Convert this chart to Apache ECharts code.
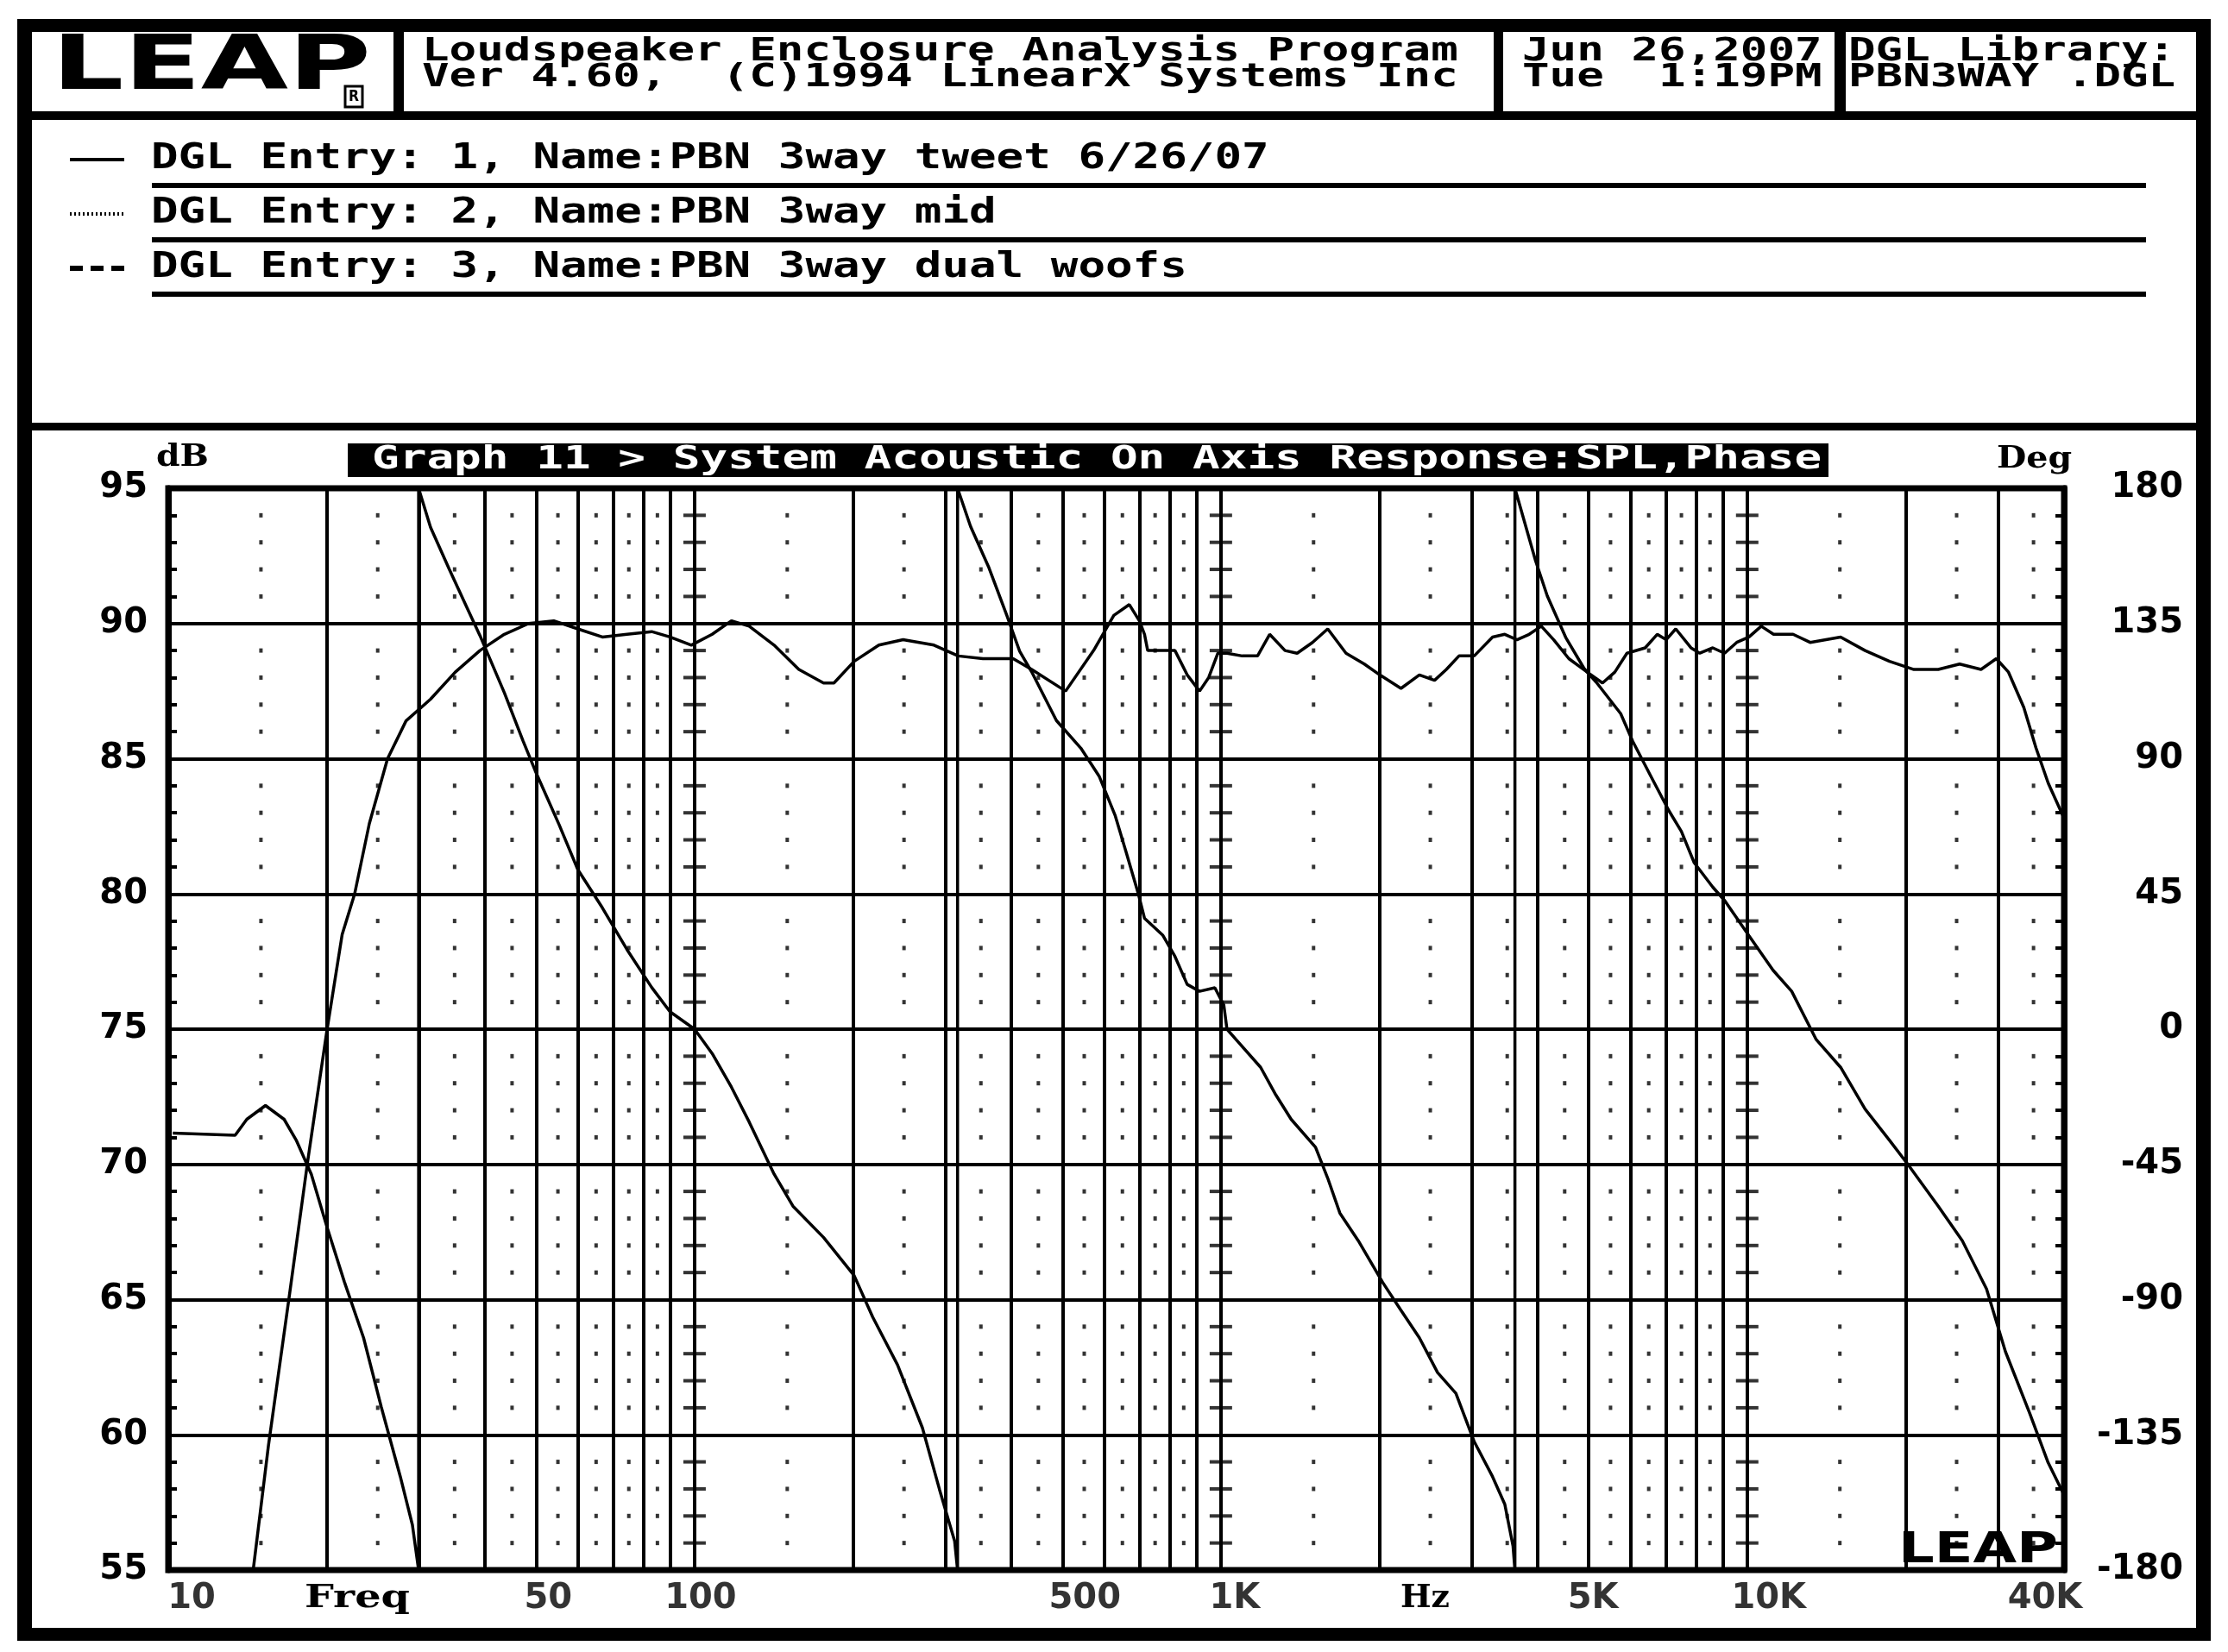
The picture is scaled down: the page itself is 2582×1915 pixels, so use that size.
<!DOCTYPE html>
<html><head><meta charset="utf-8">
<script src="https://cdn.jsdelivr.net/npm/echarts@6/dist/echarts.min.js"></script>
<style>html,body{margin:0;padding:0;background:#fff}#c{width:2582px;height:1915px}</style>
</head><body><div id="c"></div>
<script>
// ---------------- DATA ----------------
const splFreq = [14.5,15.5,17.0,18.4,20.0,21.4,22.6,24.1,26.1,28.3,31.5,35.1,39.1,43.5,48.4,54,60,66.8,74.4,82.9,89.8,98.6,108,117.5,127,141.6,157.8,175.8,184,201,224,249,285,317,353,403,437,507,573,626,670,700,716,726,755,818,863,911,948,987,1027,1098,1174,1238,1324,1396,1493,1596,1729,1873,2004,2199,2383,2547,2682,2834,3029,3283,3463,3653,3853,4063,4289,4583,4967,5310,5604,5909,6400,6746,7015,7316,7820,8127,8604,9058,9551,10080,10634,11221,12222,13170,15050,16750,18640,20740,23070,25330,27820,29740,31370,33540,35380,37320,40000];
const splDb = [55,59.6,65.2,70.1,74.9,78.5,80.0,82.6,85.0,86.4,87.2,88.2,89.0,89.6,90.0,90.1,89.8,89.5,89.6,89.7,89.5,89.2,89.6,90.1,89.9,89.2,88.3,87.8,87.8,88.6,89.2,89.4,89.2,88.8,88.7,88.7,88.3,87.5,89.0,90.3,90.7,90.1,89.6,89.0,89.0,89.0,88.1,87.5,88.0,88.9,88.9,88.8,88.8,89.6,89.0,88.9,89.3,89.8,88.9,88.5,88.1,87.6,88.1,87.9,88.3,88.8,88.8,89.5,89.6,89.4,89.6,89.9,89.4,88.7,88.2,87.8,88.2,88.9,89.1,89.6,89.4,89.8,89.1,88.9,89.1,88.9,89.3,89.5,89.9,89.6,89.6,89.3,89.5,89.0,88.6,88.3,88.3,88.5,88.3,88.7,88.2,86.9,85.4,84.1,82.8];

const phaseFreq = [10.2,13.4,14.1,15.3,16.6,17.5,18.7,20,21.6,23.5,25.4,27.6,29.1,29.9,29.9,31.5,34.2,37.0,39.1,43.5,47.2,49.8,55.3,60,66.8,74.4,82.9,89.8,100,108,117.5,127,141.6,153.8,175.8,201,218,243,271,292,312,316,316,334.5,362.6,392.7,414.6,437,487,542,587,630,661,697,716,776,818,863,911,974,1013,1027,1069,1190,1272,1360,1513,1596,1683,1824,2030,2198,2383,2581,2796,3030,3282,3463,3590,3620,3620,3963,4170,4520,4900,5170,5750,6060,6560,7100,7500,7930,8600,9070,10080,11200,12150,13530,15050,16750,18640,20200,23070,25630,28500,30950,34450,37300,40000];
const phaseDeg = [-34.6,-35.3,-30,-25.4,-30,-36.9,-48.3,-65.5,-84,-102.7,-125.8,-148.9,-165,-180,180,167,153,140,131,112,96,86,68,53.1,40.4,26.5,13.9,5.8,0,-8.1,-19.3,-30.9,-48.2,-58.9,-69.3,-82,-95.8,-111.7,-132.7,-153.2,-170.4,-180,180,167.3,153.5,137.3,125.8,118.9,102.7,93.5,84.2,71,58.8,45,36.9,31.2,24.2,14.9,12.6,13.8,8.0,0.0,-3.5,-12.7,-21.9,-30,-39.3,-49.6,-61.2,-70.4,-84.3,-93.5,-102.7,-114.3,-121.2,-137.3,-148.9,-158.1,-172,-180,180,155.8,144.2,130.4,120,115.4,105,95.8,84.2,72.7,65.8,55.4,47.3,42.7,31.1,19.6,12.6,-3.5,-12.7,-26.6,-37,-45,-58.9,-70.4,-86.5,-107.3,-128,-144.2,-155];

const solidFreqs = [20,30,40,50,60,70,80,90,100,200,300,400,500,600,700,800,900,1000,2000,3000,4000,5000,6000,7000,8000,9000,10000,20000,30000];
const dottedFreqs = [15,25,35,45,55,65,75,85,150,250,350,450,550,650,750,850,1500,2500,3500,4500,5500,6500,7500,8500,15000,25000,35000];
const crossFreqs = [100,1000,10000];
const minorDb = [56,57,58,59,61,62,63,64,66,67,68,69,71,72,73,74,76,77,78,79,81,82,83,84,86,87,88,89,91,92,93,94];
const freqTicks = [10,50,100,500,1000,5000,10000,40000];
const freqTickLabels = ['10','50','100','500','1K','5K','10K','40K'];

const headerTitle = ['Loudspeaker Enclosure Analysis Program','Ver 4.60,  (C)1994 LinearX Systems Inc'];
const headerDate = ['Jun 26,2007','Tue  1:19PM'];
const headerLib = ['DGL Library:','PBN3WAY .DGL'];
const legendTexts = ['DGL Entry: 1, Name:PBN 3way tweet 6/26/07','DGL Entry: 2, Name:PBN 3way mid','DGL Entry: 3, Name:PBN 3way dual woofs'];
const graphTitle = 'Graph 11 > System Acoustic On Axis Response:SPL,Phase';

// ---------------- STYLE / LAYOUT ----------------
const freqLabelDx = [27,14,7,26,16,5,25,-22];
const G = {left:195, top:566, right:2392, bottom:1820};
const mono = '"DejaVu Sans Mono"';
const CW = 31.6; // character cell width

const cv = document.createElement('canvas').getContext('2d');
function tw(text, font){ cv.font = font; return cv.measureText(text).width; }
function txt(text, x, y, size, width, o){
  o = o || {};
  const font = (o.weight||'bold') + ' ' + size + 'px ' + (o.family||mono);
  const w = tw(text, font);
  return {type:'text', x:x, y:y, z:o.z||10, scaleX: width ? width/w : 1,
    style:{text:text, font:font, fill:o.fill||'#000', textAlign:'left', textVerticalAlign:'middle', align:'left', verticalAlign:'middle'}};
}
function rect(x,y,w,h,fill,z){ return {type:'rect', shape:{x:x,y:y,width:w,height:h}, style:{fill:fill||'#000'}, z:z||5}; }
function seg(x1,y1,x2,y2,w,dash){ return {type:'line', shape:{x1:x1,y1:y1,x2:x2,y2:y2}, style:{stroke:'#000', lineWidth:w, lineDash:dash||null}, z:5}; }

const graphics = [];
// outer frame
graphics.push(rect(20,22,2542,15));
graphics.push(rect(20,22,17,1880));
graphics.push(rect(2545,22,17,1880));
graphics.push(rect(20,1887,2542,15));
// header
graphics.push(rect(20,129,2542,10));
graphics.push(rect(456,22,12,117));
graphics.push(rect(1731,22,11,117));
graphics.push(rect(2126,22,13,117));
// separator
graphics.push(rect(20,490,2542,9));
// LEAP logo
graphics.push(txt('LEAP', 60, 80, 88, 370, {family:'"DejaVu Sans"'}));
graphics.push({type:'rect', shape:{x:400,y:100,width:20,height:24}, style:{fill:'none', stroke:'#000', lineWidth:3}, z:6});
graphics.push(txt('R', 404, 112, 18, 12, {family:'"DejaVu Sans"'}));
// header texts
headerTitle.forEach((t,i)=>graphics.push(txt(t, 489, 60+i*30, 38, t.length*CW)));
headerDate.forEach((t,i)=>graphics.push(txt(t, 1764, 60+i*30, 38, t.length*CW)));
headerLib.forEach((t,i)=>graphics.push(txt(t, 2142, 60+i*30, 38, t.length*CW)));
// legend
const legY = [185, 248, 311];
legendTexts.forEach((t,i)=>{
  graphics.push(txt(t, 175, legY[i], 40, t.length*CW));
  graphics.push(rect(176, legY[i]+27, 2311, 6));
});
graphics.push(seg(81,legY[0],144,legY[0],4));
graphics.push(seg(81,legY[1],144,legY[1],4,[2,3]));
graphics.push(seg(81,legY[2],144,legY[2],6,[15,9]));
// graph title bar
graphics.push(rect(403,514,1716,39));
graphics.push(txt(graphTitle, 431, 533, 38, graphTitle.length*31.7, {fill:'#fff', z:11}));
// axis names
graphics.push(txt('dB', 181, 531, 36, 61, {family:'"DejaVu Serif"'}));
graphics.push(txt('Deg', 2314, 533, 36, 87, {family:'"DejaVu Serif"'}));
graphics.push(txt('Freq', 353, 1853, 38, 122, {family:'"DejaVu Serif"'}));
graphics.push(txt('Hz', 1623, 1853, 38, 57, {family:'"DejaVu Serif"'}));
// watermark logo
graphics.push(txt('LEAP', 2200, 1798, 50, 185, {family:'"DejaVu Sans"', z:100}));

const dots = [];
dottedFreqs.forEach(f=>minorDb.forEach(d=>dots.push([f,d])));
const crosses = [];
crossFreqs.forEach(f=>minorDb.forEach(d=>crosses.push([f,d])));

const axisFont = {color:'#000', fontSize:40, fontWeight:'bold', fontFamily:'"DejaVu Sans"'};

const option = {
  animation:false,
  backgroundColor:'#fff',
  grid:{left:G.left, top:G.top, width:G.right-G.left, height:G.bottom-G.top, show:true, borderColor:'#000', borderWidth:7, backgroundColor:'transparent'},
  xAxis:{type:'log', logBase:10, min:10, max:40000, axisLine:{show:false}, axisTick:{show:false}, axisLabel:{show:false}, splitLine:{show:false}, minorSplitLine:{show:false}},
  yAxis:[
    {type:'value', min:55, max:95, interval:5, position:'left',
     axisLine:{show:true, lineStyle:{color:'#000', width:7}},
     axisTick:{show:true, inside:true, length:10, lineStyle:{color:'#000', width:4}},
     minorTick:{show:true, splitNumber:5, length:10, lineStyle:{color:'#000', width:4}},
     splitLine:{show:true, lineStyle:{color:'#000', width:4}},
     axisLabel:Object.assign({margin:24}, axisFont)},
    {type:'value', min:-180, max:180, interval:45, position:'right',
     axisLine:{show:true, lineStyle:{color:'#000', width:7}},
     axisTick:{show:true, inside:true, length:10, lineStyle:{color:'#000', width:4}},
     minorTick:{show:true, splitNumber:5, length:10, lineStyle:{color:'#000', width:4}},
     splitLine:{show:false},
     axisLabel:Object.assign({margin:138, align:'right'}, axisFont)}
  ],
  graphic:{elements:graphics},
  series:[
    {type:'scatter', name:'dots', data:dots, symbol:'rect', symbolSize:[4,5], itemStyle:{color:'#000'}, silent:true, z:3,
     markLine:{silent:true, symbol:['none','none'], label:{show:false}, lineStyle:{color:'#000', width:4, type:'solid'},
       data: solidFreqs.map(f=>({xAxis:f}))}},
    {type:'scatter', name:'crosses', data:crosses, symbol:'rect', symbolSize:[26,4], itemStyle:{color:'#000'}, silent:true, z:3},
    {type:'line', name:'SPL', data:splFreq.map((f,i)=>[f,splDb[i]]), yAxisIndex:0, showSymbol:false, symbol:'none',
     lineStyle:{color:'#000', width:3.5}, z:5},
    {type:'line', name:'Phase', data:phaseFreq.map((f,i)=>[f,phaseDeg[i]]), yAxisIndex:1, showSymbol:false, symbol:'none',
     lineStyle:{color:'#000', width:3.5}, z:5},
    {type:'scatter', name:'xlabels', clip:false, symbolSize:0, silent:true,
     data: freqTicks.map((f,i)=>({value:[f,55], label:{offset:[freqLabelDx[i],34], formatter:freqTickLabels[i]}})),
     label:Object.assign({show:true, position:'inside', align:'center', verticalAlign:'middle'}, axisFont)}
  ]
};
const chart = echarts.init(document.getElementById('c'), null, {renderer:'canvas'});
chart.setOption(option);
</script></body></html>
